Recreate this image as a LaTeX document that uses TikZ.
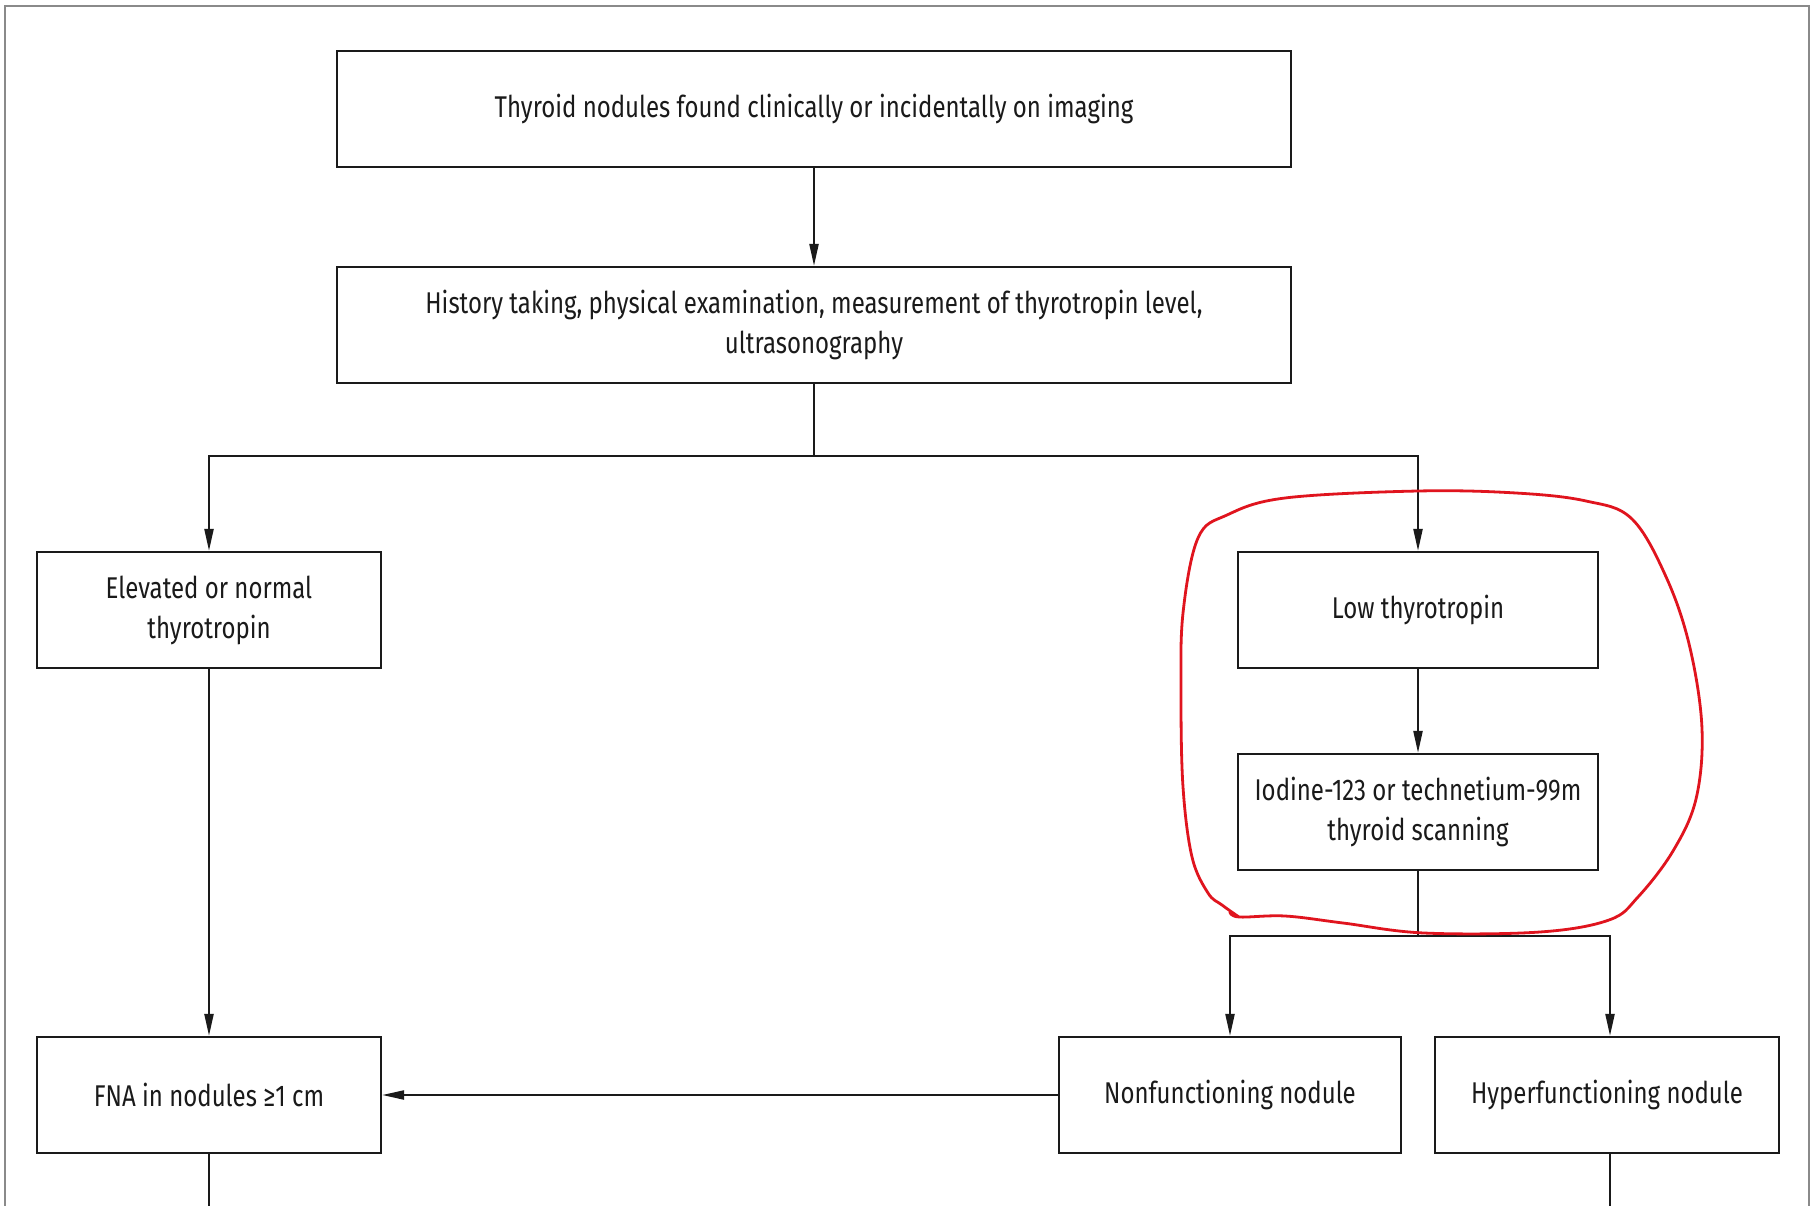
\documentclass[tikz,border=0pt]{standalone}
\usepackage{fontspec}
\setmainfont{Fira Sans}[FakeStretch=0.8]
\usetikzlibrary{arrows.meta,positioning}
\definecolor{ink}{HTML}{1A1A1A}
\definecolor{framegray}{HTML}{8A8A8A}
\definecolor{loopred}{HTML}{E0141E}
\begin{document}
\begin{tikzpicture}[x=1pt,y=-1pt,
  box/.style={draw=ink,line width=2.2pt,rectangle,align=center,text=ink,
     font=\fontsize{30}{40}\selectfont,inner sep=0pt},
  conn/.style={draw=ink,line width=2.2pt},
  arr/.style={conn,-{Triangle[length=22pt,width=9pt]}}]
\useasboundingbox (0,0) rectangle (1815,1206);
\fill[white] (0,0) rectangle (1815,1206);
% outer frame
\draw[framegray,line width=2.5pt] (5,1206) -- (5,6) -- (1809,6) -- (1809,1206);
% boxes
\node[box,minimum width=954pt,minimum height=116pt] (b1) at (814,109) {Thyroid nodules found clinically or incidentally on imaging};
\node[box,minimum width=954pt,minimum height=116pt] (b2) at (814,325) {History taking, physical examination, measurement of thyrotropin level,\\ultrasonography};
\node[box,minimum width=344pt,minimum height=116pt] (elev) at (209,610) {Elevated or normal\\thyrotropin};
\node[box,minimum width=360pt,minimum height=116pt] (low) at (1418,610) {Low thyrotropin};
\node[box,minimum width=360pt,minimum height=116pt] (scan) at (1418,812) {Iodine-123 or technetium-99m\\thyroid scanning};
\node[box,minimum width=344pt,minimum height=116pt] (fna) at (209,1095) {FNA in nodules ≥1 cm};
\node[box,minimum width=342pt,minimum height=116pt] (nonf) at (1230,1095) {Nonfunctioning nodule};
\node[box,minimum width=344pt,minimum height=116pt] (hyper) at (1607,1095) {Hyperfunctioning nodule};
% junctions
\coordinate (j1) at (b2.south |- 0,456);
\coordinate (j2) at (scan.south |- 0,936);
\coordinate (hn) at ([xshift=3pt]hyper.north);
\coordinate (hs) at ([xshift=3pt]hyper.south);
\coordinate (e1) at (fna.south |- 0,1206);
\coordinate (e2) at (hs |- 0,1206);
% connectors
\draw[arr] (b1.south) -- (b2.north);
\draw[arr] (b2.south) -- (j1) -| (elev.north);
\draw[arr] (j1) -| (low.north);
\draw[arr] (low.south) -- (scan.north);
\draw[arr] (scan.south) -- (j2) -| (nonf.north);
\draw[arr] (j2) -| (hn);
\draw[arr] (elev.south) -- (fna.north);
\draw[arr] (nonf.west) -- (fna.east);
\draw[conn] (fna.south) -- (e1);
\draw[conn] (hs) -- (e2);
% red hand-drawn loop
\draw[loopred,line width=2.8pt,line join=round,line cap=round] plot[smooth,tension=0.6] coordinates {
 (1239,917) (1222,905) (1208,893) (1192,857) (1183,787) (1181,694) (1183,613)
 (1198,538) (1227,515) (1285,498) (1418,491) (1516,493) (1586,501) (1632,519)
 (1667,579) (1690,648) (1702,729) (1696,799) (1673,851) (1638,897) (1609,920)
 (1540,932) (1424,933) (1343,923) (1285,916) (1239,917) (1230,912)};
\end{tikzpicture}
\end{document}
